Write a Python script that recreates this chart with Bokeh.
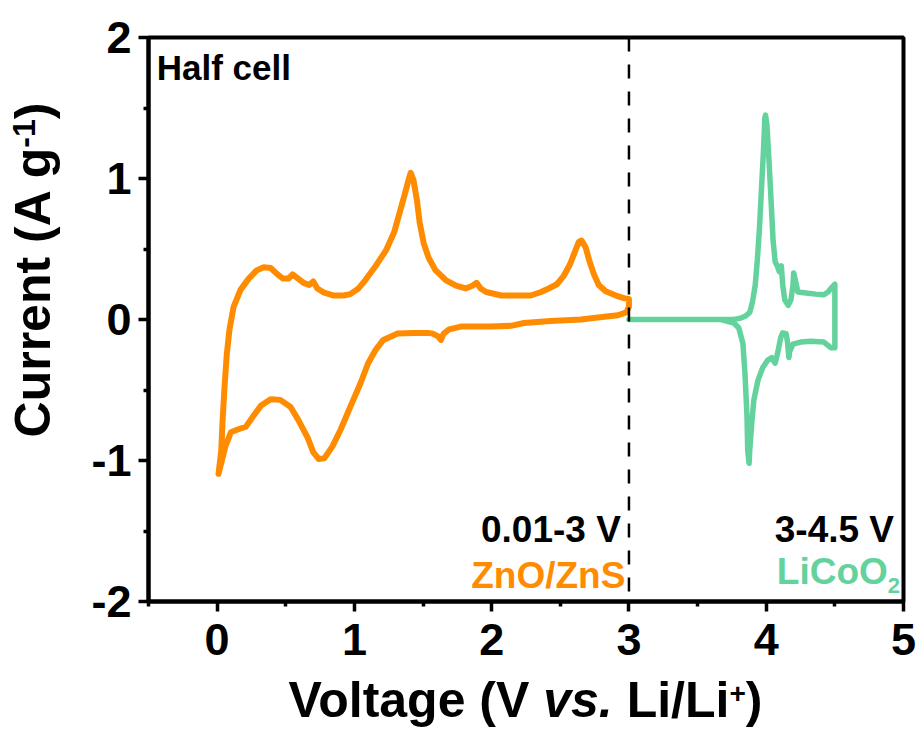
from bokeh.plotting import figure
from bokeh.layouts import row, column
from bokeh.models import Range1d, FixedTicker, Label, Span, Div
from bokeh.embed import file_html
from bokeh.resources import INLINE

# ZnO/ZnS electrode, 0.01-3 V: anodic sweep followed by the cathodic sweep
zn_voltage = [
    0.01, 0.03, 0.04, 0.055, 0.07, 0.09, 0.12, 0.17, 0.23, 0.29, 0.34, 0.39,
    0.44, 0.48, 0.52, 0.55, 0.59, 0.63, 0.67, 0.70, 0.73, 0.78, 0.85, 0.92,
    0.97, 1.03, 1.08, 1.155, 1.23, 1.29, 1.33, 1.37, 1.40, 1.41, 1.43, 1.455,
    1.475, 1.505, 1.54, 1.59, 1.665, 1.74, 1.81, 1.86, 1.89, 1.92, 1.96, 2.07,
    2.18, 2.285, 2.36, 2.415, 2.475, 2.525, 2.57, 2.61, 2.635, 2.655, 2.685,
    2.71, 2.745, 2.78, 2.83, 2.905, 2.97, 3.00,
    3.00, 2.98, 2.92, 2.82, 2.65, 2.43, 2.235, 2.14, 1.99, 1.775, 1.69, 1.65,
    1.63, 1.61, 1.57, 1.535, 1.43, 1.315, 1.21, 1.155, 1.10, 1.045, 0.97,
    0.90, 0.84, 0.78, 0.74, 0.70, 0.66, 0.59, 0.535, 0.46, 0.39, 0.32, 0.26,
    0.21, 0.15, 0.10, 0.06, 0.01,
]
zn_current = [
    -1.095, -0.93, -0.71, -0.46, -0.25, -0.07, 0.09, 0.21, 0.29, 0.35, 0.37, 0.365,
    0.32, 0.29, 0.29, 0.32, 0.29, 0.26, 0.245, 0.27, 0.22, 0.19, 0.17, 0.17,
    0.18, 0.22, 0.28, 0.38, 0.49, 0.62, 0.76, 0.90, 1.01, 1.04, 0.99, 0.85,
    0.69, 0.54, 0.44, 0.35, 0.28, 0.24, 0.22, 0.24, 0.26, 0.22, 0.195, 0.17,
    0.17, 0.17, 0.195, 0.22, 0.25, 0.31, 0.39, 0.49, 0.55, 0.56, 0.51,
    0.42, 0.32, 0.245, 0.20, 0.17, 0.15, 0.145,
    0.09, 0.05, 0.03, 0.02, 0.0, -0.01, -0.025, -0.045, -0.05, -0.05, -0.07, -0.10,
    -0.145, -0.12, -0.10, -0.095, -0.095, -0.10, -0.145, -0.215, -0.31, -0.45, -0.62,
    -0.78, -0.90, -0.985, -0.99, -0.94, -0.84, -0.71, -0.62, -0.57, -0.565, -0.61, -0.69,
    -0.76, -0.78, -0.80, -0.90, -1.095,
]

# LiCoO2 electrode, 3-4.5 V: anodic sweep followed by the cathodic sweep
lco_voltage = [
    3.00, 3.525, 3.765, 3.815, 3.85, 3.88, 3.90, 3.92, 3.935, 3.95, 3.965, 3.98,
    3.99, 3.995, 4.005, 4.02, 4.035, 4.05, 4.065, 4.08, 4.095, 4.11, 4.12, 4.135,
    4.16, 4.18, 4.195, 4.20, 4.22, 4.23, 4.275, 4.36, 4.42, 4.45, 4.48, 4.50,
    4.50, 4.47, 4.42, 4.325, 4.25, 4.195, 4.17, 4.165, 4.155, 4.145, 4.12, 4.105,
    4.085, 4.065, 4.04, 4.01, 3.975, 3.94, 3.91, 3.895, 3.88, 3.875, 3.865, 3.86,
    3.845, 3.83, 3.80, 3.765, 3.67, 3.00,
]
lco_current = [
    0.0, 0.0, 0.0, 0.01, 0.025, 0.05, 0.125, 0.245, 0.42, 0.635, 0.92, 1.20,
    1.43, 1.45, 1.38, 1.13, 0.85, 0.56, 0.41, 0.38, 0.34, 0.38, 0.245, 0.14,
    0.10, 0.14, 0.245, 0.33, 0.245, 0.195, 0.19, 0.18, 0.175, 0.195, 0.23, 0.25,
    -0.20, -0.20, -0.16, -0.155, -0.16, -0.175, -0.23, -0.27, -0.16, -0.10, -0.095, -0.13,
    -0.23, -0.31, -0.27, -0.29, -0.34, -0.43, -0.57, -0.73, -0.925, -1.02, -0.925, -0.69,
    -0.38, -0.17, -0.06, -0.025, 0.0, 0.0,
]

x_ticks = [0, 1, 2, 3, 4, 5]
x_tick_labels = ["0", "1", "2", "3", "4", "5"]
x_minor_ticks = [-0.5, 0.5, 1.5, 2.5, 3.5, 4.5]
y_ticks = [-2, -1, 0, 1, 2]
y_tick_labels = ["-2", "-1", "0", "1", "2"]
y_minor_ticks = [-1.5, -0.5, 0.5, 1.5]
window_split = 3.0

ORANGE = "#FF8C00"
GREEN = "#63D29D"
FONT = "Liberation Sans"

TITLE_W = 70      # width of the strip holding the vertical axis title
XTITLE_H = 53     # height of the strip holding the horizontal axis title

p = figure(
    width=920 - TITLE_W, height=729 - XTITLE_H,
    x_range=Range1d(-0.5, 5), y_range=Range1d(-2, 2),
    output_backend="svg", toolbar_location=None,
    min_border_left=78, min_border_right=17, min_border_top=37, min_border_bottom=75,
)
p.grid.visible = False
p.background_fill_color = "white"
p.border_fill_color = "white"
p.outline_line_color = "black"
p.outline_line_width = 4

p.xaxis.ticker = FixedTicker(ticks=x_ticks, minor_ticks=x_minor_ticks)
p.yaxis.ticker = FixedTicker(ticks=y_ticks, minor_ticks=y_minor_ticks)
p.xaxis.major_label_overrides = dict(zip(x_ticks, x_tick_labels))
p.yaxis.major_label_overrides = dict(zip(y_ticks, y_tick_labels))
for ax in (p.xaxis, p.yaxis):
    ax.axis_line_width = 4
    ax.axis_line_color = "black"
    ax.major_tick_line_width = 3.5
    ax.minor_tick_line_width = 3.5
    ax.major_tick_line_color = "black"
    ax.minor_tick_line_color = "black"
    ax.major_tick_out = 10
    ax.major_tick_in = 0
    ax.minor_tick_out = 5
    ax.minor_tick_in = 0
    ax.major_label_text_font = FONT
    ax.major_label_text_font_size = "45px"
    ax.major_label_text_font_style = "bold"
    ax.major_label_text_color = "black"
p.xaxis.major_label_standoff = 12
p.yaxis.major_label_standoff = 7

p.line(zn_voltage, zn_current, line_color=ORANGE, line_width=6, line_join="round", line_cap="round")
p.line(lco_voltage, lco_current, line_color=GREEN, line_width=5.5, line_join="round", line_cap="round")

p.add_layout(Span(location=window_split, dimension="height", line_color="black",
                  line_width=2.5, line_dash="14 13"))


def label(x, y, text, size, color="black", align="left"):
    p.add_layout(Label(x=x, y=y, text=text, text_font=FONT, text_font_size=f"{size}px",
                       text_font_style="bold", text_color=color, text_align=align,
                       text_baseline="alphabetic"))


label(-0.44, 1.79, "Half cell", 35)
label(2.941, -1.486, "0.01-3 V", 37, align="right")
label(2.974, -1.819, "ZnO/ZnS", 37, color=ORANGE, align="right")
label(4.931, -1.486, "3-4.5 V", 37, align="right")
label(4.886, -1.784, "LiCoO", 37, color=GREEN, align="right")
label(4.974, -1.886, "2", 22, color=GREEN, align="right")

# axis titles as HTML so that italics and superscripts sit inline
TITLE_STYLE = ("white-space:nowrap;font-family:'Liberation Sans',Arial,sans-serif;"
               "font-weight:bold;font-size:50px;line-height:50px;color:black;")

y_title = Div(
    width=TITLE_W, height=729, margin=0,
    text=(
        f'<div style="position:relative;width:{TITLE_W}px;height:729px;">'
        '<div style="position:absolute;left:33px;top:270px;'
        f'transform:translate(-50%,-50%) rotate(-90deg);{TITLE_STYLE}">'
        'Current (A g<span style="font-size:32px;line-height:0;vertical-align:15px;">-1</span>)'
        '</div></div>'
    ),
)
x_title = Div(
    width=920 - TITLE_W, height=XTITLE_H, margin=0,
    text=(
        f'<div style="position:relative;width:{920 - TITLE_W}px;height:{XTITLE_H}px;">'
        '<div style="position:absolute;left:455.5px;top:-1px;'
        f'transform:translateX(-50%);{TITLE_STYLE}">'
        'Voltage (V <i>vs.</i> Li/Li<span style="font-size:28px;line-height:0;vertical-align:14px;">+</span>)'
        '</div></div>'
    ),
)

layout = row(y_title, column(p, x_title, spacing=0), spacing=0)

open("out.html", "w").write(file_html(layout, INLINE))
